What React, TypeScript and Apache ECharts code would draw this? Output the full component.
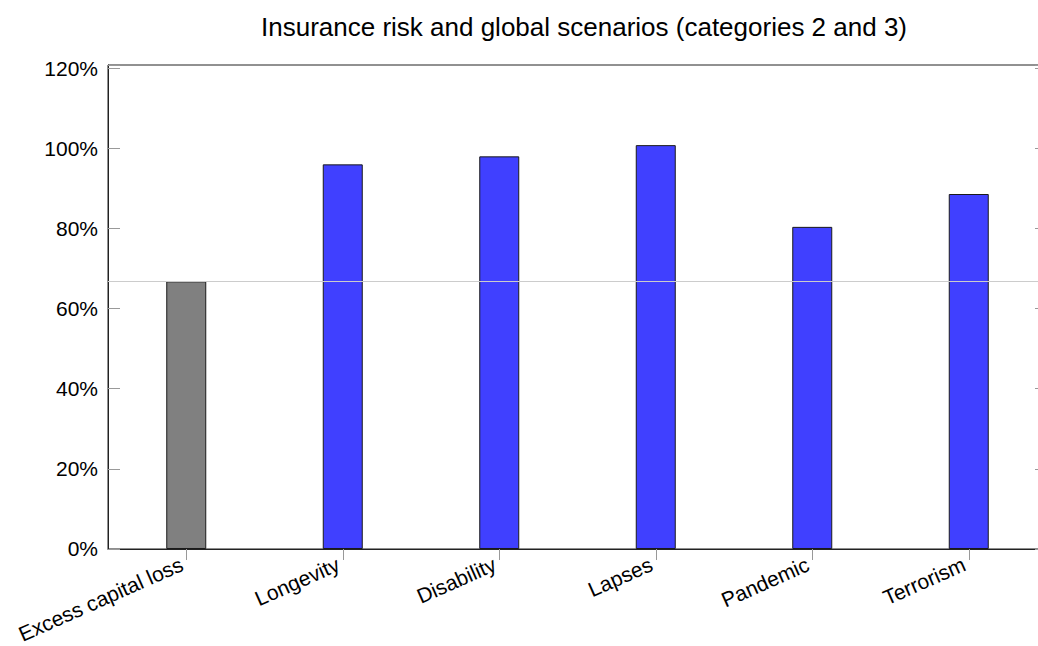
import React, { useEffect, useRef } from "react";
import * as echarts from "echarts";

const titleText = "Insurance risk and global scenarios (categories 2 and 3)";
const categories = ["Excess capital loss", "Longevity", "Disability", "Lapses", "Pandemic", "Terrorism"];
const values = [66.8, 96.0, 98.0, 100.8, 80.4, 88.6];
const barColors = ["#808080", "#4040ff", "#4040ff", "#4040ff", "#4040ff", "#4040ff"];
const referenceValue = 66.8;
const yTicks = [0, 20, 40, 60, 80, 100, 120];

export default function App() {
  const ref = useRef<HTMLDivElement>(null);
  useEffect(() => {
    if (!ref.current) return;
    const chart = echarts.init(ref.current, null, { renderer: "svg" });
    const font = "Liberation Sans, Arial, Helvetica, sans-serif";
    chart.setOption({
      animation: false,
      backgroundColor: "#ffffff",
      title: {
        text: titleText,
        left: 579,
        textAlign: "center",
        top: 9,
        textStyle: { fontFamily: font, fontSize: 26, fontWeight: "normal", color: "#000" },
      },
      grid: {
        left: 108,
        right: 13,
        top: 65,
        bottom: 97,
        show: true,
        borderColor: "#222",
        borderWidth: 1,
        containLabel: false,
      },
      xAxis: [
        {
          type: "category",
          data: categories,
          position: "bottom",
          axisLine: { show: true, lineStyle: { color: "#222", width: 1 } },
          axisTick: { show: true, alignWithLabel: true, inside: false, length: 11, lineStyle: { color: "#999" } },
          axisLabel: {
            rotate: 24,
            margin: 12,
            padding: [0, 5, 0, 0],
            fontFamily: font,
            fontSize: 21,
            color: "#000",
            interval: 0,
          },
          splitLine: { show: false },
        },
        {
          type: "category",
          data: categories,
          position: "top",
          axisLine: { show: false },
          axisTick: { show: true, alignWithLabel: true, inside: false, length: 12, lineStyle: { color: "#999" } },
          axisLabel: { show: false },
          splitLine: { show: false },
        },
      ],
      yAxis: [
        {
          type: "value",
          min: 0,
          max: 120.8,
          interval: 20,
          position: "left",
          axisLine: { show: true, lineStyle: { color: "#222" } },
          axisTick: { show: true, inside: true, length: 12, lineStyle: { color: "#999" } },
          axisLabel: {
            margin: 10,
            fontFamily: font,
            fontSize: 21,
            color: "#000",
            formatter: (v: number) => (yTicks.includes(Math.round(v * 1000) / 1000) ? v + "%" : ""),
          },
          splitLine: { show: false },
        },
        {
          type: "value",
          min: 0,
          max: 120.8,
          interval: 20,
          position: "right",
          axisLine: { show: false },
          axisTick: { show: true, inside: true, length: 12, lineStyle: { color: "#999" } },
          axisLabel: { show: false },
          splitLine: { show: false },
        },
      ],
      series: [
        {
          type: "bar",
          xAxisIndex: 0,
          yAxisIndex: 0,
          barWidth: 40,
          data: values.map((v, i) => ({
            value: v,
            itemStyle: { color: barColors[i], borderColor: "#1a1a1a", borderWidth: 1 },
          })),
          markLine: {
            silent: true,
            symbol: "none",
            label: { show: false },
            lineStyle: { color: "#cccccc", width: 1, type: "solid" },
            data: [{ yAxis: referenceValue }],
          },
          z: 3,
        },
      ],
    });
    return () => chart.dispose();
  }, []);
  return <div ref={ref} style={{ position: "fixed", left: 0, top: 0, width: 1060, height: 646 }} />;
}
